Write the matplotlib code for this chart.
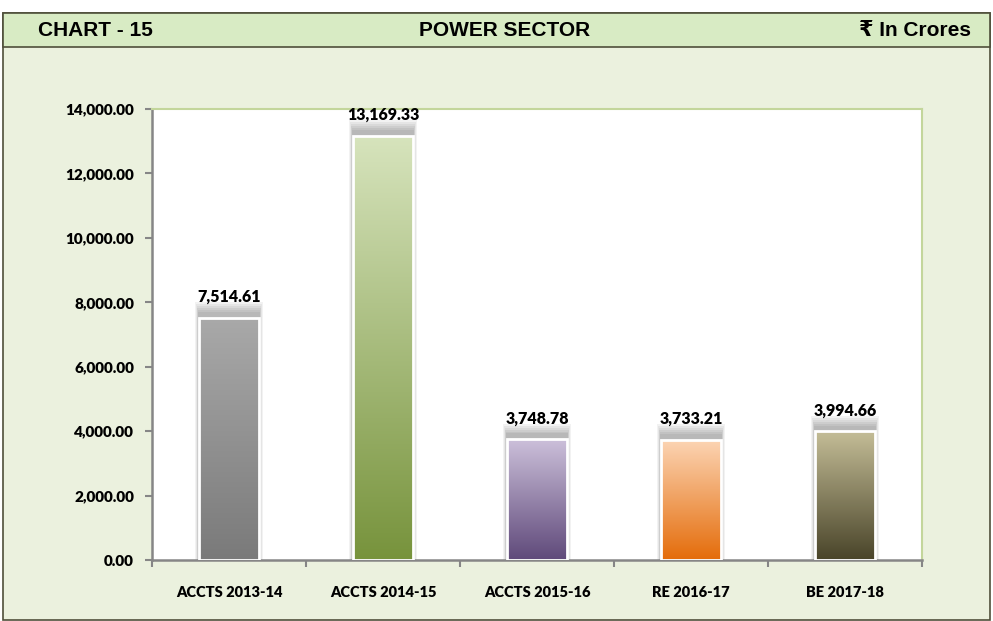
import numpy as np
import matplotlib.pyplot as plt
from matplotlib.patches import Rectangle
from matplotlib.colors import LinearSegmentedColormap

# chart data
categories = ["ACCTS 2013-14", "ACCTS 2014-15", "ACCTS 2015-16", "RE 2016-17", "BE 2017-18"]
values = [7514.61, 13169.33, 3748.78, 3733.21, 3994.66]
yticks = [0, 2000, 4000, 6000, 8000, 10000, 12000, 14000]

# gradient colours (top, bottom) per bar
top_cols = ["#a9a9a9", "#d7e4bd", "#ccc0da", "#fcd5b5", "#c4bd97"]
bot_cols = ["#7a7a7a", "#77933c", "#5f497a", "#e46c0a", "#494429"]

lab_font = ["Lato", "DejaVu Sans"]
head_font = ["Liberation Sans Narrow", "Liberation Sans", "DejaVu Sans"]

fig = plt.figure(figsize=(9.93, 6.21), dpi=100)
fig.patch.set_facecolor("white")

# background frame + header band
W, H = 993, 621
def fx(px): return px / W
def fy(py): return 1 - py / H
fig.patches.append(Rectangle((fx(3), fy(620)), fx(987), 607 / H, transform=fig.transFigure,
                             facecolor="#ebf1de", edgecolor="#4f4f3a", lw=1.2, zorder=0))
fig.patches.append(Rectangle((fx(3), fy(47)), fx(987), 34 / H, transform=fig.transFigure,
                             facecolor="#d8ebc4", edgecolor="#4f4f3a", lw=1.2, zorder=0))

fig.text(fx(38), fy(31), "CHART - 15", fontsize=15, fontweight="bold", family=head_font, va="center")
fig.text(fx(505), fy(31), "POWER SECTOR", fontsize=15, fontweight="bold", family=head_font,
         va="center", ha="center")
fig.text(fx(971), fy(31), "\u20b9 In Crores", fontsize=15, fontweight="bold", family=head_font,
         va="center", ha="right")

ax = fig.add_axes([fx(152), fy(560), fx(922 - 152), (560 - 109) / H])
ax.set_zorder(2)
ax.set_facecolor("white")

width = 0.39
x = np.arange(len(categories))
for i, v in enumerate(values):
    # soft shadow above and around the bar
    for k in range(6):
        pad = 0.004 * (6 - k)
        ax.add_patch(Rectangle((x[i] - width / 2 - pad, 0), width + 2 * pad, v + 120 + 60 * (6 - k),
                               facecolor="black", alpha=0.05, lw=0, zorder=1))
    cmap = LinearSegmentedColormap.from_list("g%d" % i, [bot_cols[i], top_cols[i]])
    grad = np.linspace(0, 1, 256).reshape(-1, 1)
    im = ax.imshow(grad, cmap=cmap, origin="lower", aspect="auto",
                   extent=(x[i] - width / 2, x[i] + width / 2, 0, v), zorder=2)
    rect = Rectangle((x[i] - width / 2, 0), width, v, facecolor="none", edgecolor="white", lw=2, zorder=3)
    ax.add_patch(rect)
    im.set_clip_path(rect)
    ax.text(x[i], v + 400, f"{v:,.2f}", ha="center", va="bottom", fontsize=11.5,
            fontweight="heavy", family=lab_font, zorder=4)

ax.set_xlim(-0.5, len(categories) - 0.5)
ax.set_ylim(0, 14000)

ax.set_yticks(yticks)
ax.set_yticklabels([f"{t:,.2f}" for t in yticks], fontsize=11, fontweight="heavy", family=lab_font)
ax.set_xticks(x)
ax.set_xticklabels(categories, fontsize=10.5, fontweight="heavy", family=lab_font)
ax.tick_params(axis="x", length=0, pad=19)
ax.set_xticks(np.arange(-0.5, len(categories)), minor=True)
ax.tick_params(axis="x", which="minor", length=5, color="#868686", width=1.5)
ax.tick_params(axis="y", length=5, color="#868686", width=1.5, pad=8)

for s in ["left", "bottom"]:
    ax.spines[s].set_color("#868686")
    ax.spines[s].set_linewidth(1.8)
for s in ["top", "right"]:
    ax.spines[s].set_color("#c3d69b")
    ax.spines[s].set_linewidth(1.5)

fig.savefig("out.png", dpi=100)
